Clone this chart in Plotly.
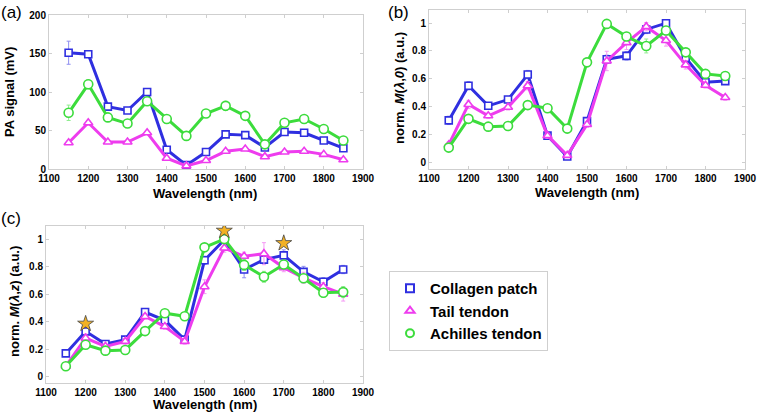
import plotly.graph_objects as go

wavelength = [1150, 1200, 1250, 1300, 1350, 1400, 1450, 1500, 1550, 1600, 1650, 1700, 1750, 1800, 1850]

# (a) PA signal (mV)
a_collagen = [151, 149, 81, 76, 100, 25, 5, 22, 45, 44, 28, 48, 47, 37, 27]
a_tail = [34, 60, 35, 35, 47, 14, 4, 11, 23, 26, 16, 22, 23, 19, 12]
a_achilles = [73, 110, 67, 59, 88, 65, 43, 72, 82, 69, 32, 60, 65, 52, 37]
a_collagen_err = [15, 2, 2, 2, 3, 2, 1, 2, 2, 2, 2, 2, 2, 2, 2]
a_tail_err = [2, 3, 2, 2, 2, 1, 1, 1, 1, 1, 1, 1, 1, 1, 1]
a_achilles_err = [10, 6, 2, 2, 3, 2, 2, 3, 6, 3, 2, 2, 2, 2, 2]

# (b) norm. M(lambda,0)
b_collagen = [0.30, 0.55, 0.405, 0.45, 0.63, 0.19, 0.04, 0.295, 0.74, 0.765, 0.955, 1.0, 0.75, 0.575, 0.583]
b_tail = [0.125, 0.415, 0.333, 0.395, 0.55, 0.19, 0.048, 0.27, 0.728, 0.86, 0.975, 0.875, 0.70, 0.553, 0.465]
b_achilles = [0.104, 0.311, 0.255, 0.26, 0.41, 0.388, 0.241, 0.718, 0.995, 0.904, 0.836, 0.947, 0.79, 0.635, 0.62]
b_collagen_err = [0.03, 0.03, 0.02, 0.02, 0.03, 0.02, 0.01, 0.02, 0.03, 0.03, 0.03, 0.02, 0.03, 0.02, 0.02]
b_tail_err = [0.02, 0.03, 0.02, 0.02, 0.03, 0.02, 0.01, 0.02, 0.07, 0.05, 0.03, 0.04, 0.03, 0.02, 0.02]
b_achilles_err = [0.02, 0.02, 0.02, 0.02, 0.02, 0.02, 0.02, 0.03, 0.02, 0.03, 0.05, 0.03, 0.03, 0.03, 0.03]

# (c) norm. M(lambda,z)
c_collagen = [0.17, 0.33, 0.238, 0.27, 0.47, 0.41, 0.27, 0.846, 0.995, 0.779, 0.851, 0.882, 0.762, 0.69, 0.779]
c_tail = [0.077, 0.281, 0.221, 0.257, 0.438, 0.365, 0.257, 0.654, 0.935, 0.875, 0.894, 0.793, 0.719, 0.654, 0.60]
c_achilles = [0.077, 0.233, 0.19, 0.195, 0.332, 0.462, 0.44, 0.94, 1.0, 0.8125, 0.726, 0.815, 0.716, 0.61, 0.615]
c_collagen_err = [0.01, 0.02, 0.01, 0.02, 0.02, 0.02, 0.02, 0.03, 0.01, 0.06, 0.03, 0.04, 0.04, 0.03, 0.03]
c_tail_err = [0.02, 0.03, 0.02, 0.02, 0.02, 0.02, 0.02, 0.05, 0.03, 0.03, 0.08, 0.03, 0.04, 0.03, 0.05]
c_achilles_err = [0.02, 0.02, 0.02, 0.02, 0.02, 0.02, 0.02, 0.02, 0.01, 0.04, 0.04, 0.03, 0.03, 0.03, 0.04]

star_x = [1200, 1550, 1700]
star_y = [0.385, 1.06, 0.97]

series_names = ["Collagen patch", "Tail tendon", "Achilles tendon"]
colors = ["#2f2fe0", "#ee3cee", "#3cdc3c"]
err_colors = ["#8f8ff0", "#f49af4", "#90ec90"]
symbols = ["square-open", "triangle-up-open", "circle-open"]
msizes = [7, 8, 9]

FONT = "Arial, Liberation Sans, sans-serif"

fig = go.Figure()

panels = [
    ("x", "y", [a_collagen, a_tail, a_achilles], [a_collagen_err, a_tail_err, a_achilles_err]),
    ("x2", "y2", [b_collagen, b_tail, b_achilles], [b_collagen_err, b_tail_err, b_achilles_err]),
    ("x3", "y3", [c_collagen, c_tail, c_achilles], [c_collagen_err, c_tail_err, c_achilles_err]),
]

for xa, ya, vals, errs in panels:
    for i in range(3):
        fig.add_trace(go.Scatter(
            x=wavelength, y=vals[i], xaxis=xa, yaxis=ya, mode="lines+markers",
            line=dict(color=colors[i], width=3),
            marker=dict(symbol=symbols[i].replace("-open", ""), size=msizes[i], color="white",
                        line=dict(color=colors[i], width=1.6)),
            error_y=dict(type="data", array=errs[i], color=err_colors[i], thickness=1, width=2),
            showlegend=False, hoverinfo="skip"))

fig.add_trace(go.Scatter(
    x=star_x, y=star_y, xaxis="x3", yaxis="y3", mode="markers",
    marker=dict(symbol="star", size=12, color="#f2b124", line=dict(color="#444444", width=0.8)),
    showlegend=False, hoverinfo="skip"))

for i in range(3):
    fig.add_trace(go.Scatter(
        x=[None], y=[None], mode="markers", name=series_names[i],
        marker=dict(symbol=symbols[i], size=8, color=colors[i], line=dict(color=colors[i], width=2)),
        showlegend=True))

W, H = 758, 417

def xd(l, r):
    return [l / W, r / W]

def yd(top, bottom):
    return [1 - bottom / H, 1 - top / H]

axis_common = dict(
    showline=True, linecolor="#cfcfcf", linewidth=1, mirror="ticks",
    ticks="inside", ticklen=3, tickcolor="#cfcfcf", showgrid=False, zeroline=False,
    automargin=False,
    tickfont=dict(family=FONT, size=10, color="black", weight="bold"),
)

xtick = dict(tickmode="array", tickvals=[1100, 1200, 1300, 1400, 1500, 1600, 1700, 1800, 1900],
             range=[1100, 1900])

fig.update_layout(
    width=W, height=H, margin=dict(l=0, r=0, t=0, b=0, autoexpand=False),
    paper_bgcolor="white", plot_bgcolor="white",
    font=dict(family=FONT, color="black"),
    xaxis=dict(domain=xd(49, 363), anchor="y", **xtick, **axis_common),
    yaxis=dict(domain=yd(15, 169), anchor="x", range=[0, 200], tickvals=[0, 50, 100, 150, 200], **axis_common),
    xaxis2=dict(domain=xd(429, 745), anchor="y2", **xtick, **axis_common),
    yaxis2=dict(domain=yd(10, 169), anchor="x2", range=[-0.05, 1.095],
                tickvals=[0, 0.2, 0.4, 0.6, 0.8, 1], ticktext=["0", "0.2", "0.4", "0.6", "0.8", "1"], **axis_common),
    xaxis3=dict(domain=xd(46, 363), anchor="y3", **xtick, **axis_common),
    yaxis3=dict(domain=yd(226, 383), anchor="x3", range=[-0.045, 1.095],
                tickvals=[0, 0.2, 0.4, 0.6, 0.8, 1], ticktext=["0", "0.2", "0.4", "0.6", "0.8", "1"], **axis_common),
    legend=dict(x=389 / W, y=1 - 271 / H, xanchor="left", yanchor="top",
                bordercolor="#cfcfcf", borderwidth=1, bgcolor="white",
                font=dict(family=FONT, size=15, color="black", weight="bold"),
                itemwidth=30, tracegroupgap=0),
)

def ann(text, x, y, size, angle=0, bold=True):
    fig.add_annotation(
        text=text, x=x / W, y=1 - y / H, xref="paper", yref="paper",
        showarrow=False, textangle=angle, xanchor="center", yanchor="middle",
        font=dict(family=FONT, size=size, color="black", weight="bold" if bold else "normal"))

ann("Wavelength (nm)", 205, 193, 13)
ann("Wavelength (nm)", 587, 192, 13)
ann("Wavelength (nm)", 205, 404, 13)
ann("PA signal (mV)", 10, 92, 13, -90)
ann("norm. <i>M</i>(<i>λ</i>,<i>0</i>) (a.u.)", 399, 88, 13, -90)
ann("norm. <i>M</i>(<i>λ</i>,<i>z</i>) (a.u.)", 14, 302, 13, -90)
ann("(a)", 11, 12, 17, bold=False)
ann("(b)", 398, 12, 17, bold=False)
ann("(c)", 11, 218, 17, bold=False)

fig.write_html("out.html", config={"displayModeBar": False},
               post_script="document.body.style.margin='0';document.body.style.overflow='hidden';")
